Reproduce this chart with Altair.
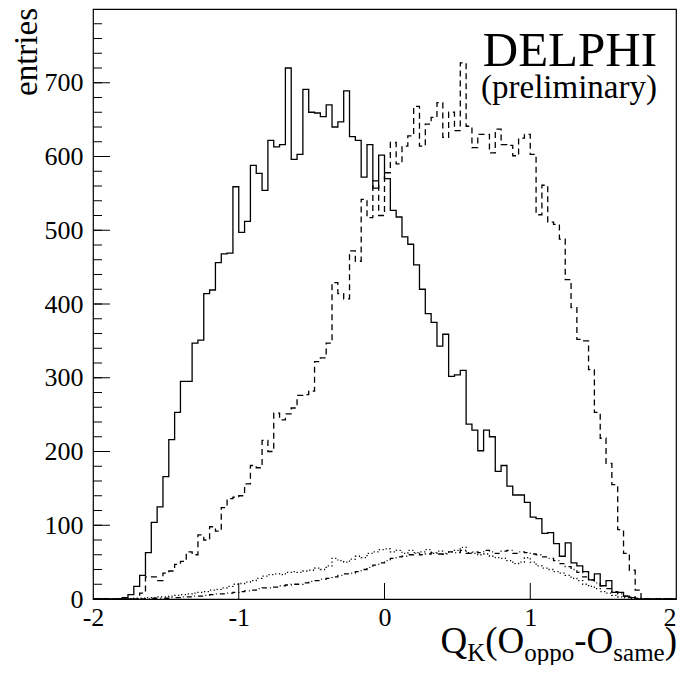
import altair as alt
import pandas as pd
import numpy as np

# ---- histogram definition -------------------------------------------------
X_MIN, X_MAX, BIN_W, N_BINS = -2.0, 2.0, 0.04, 100

# entries per bin (bins of width 0.04 starting at the given bin index)
SOLID_START = 5
SOLID = [2, 6, 17, 32, 63, 104, 125, 166, 216, 253,
         295, 295, 347, 351, 414, 419, 456, 468, 469, 559,
         497, 512, 588, 577, 554, 622, 613, 616, 720, 596,
         603, 691, 660, 659, 654, 670, 640, 647, 689, 627,
         622, 572, 616, 557, 602, 570, 527, 518, 491, 481,
         453, 420, 387, 375, 343, 359, 302, 304, 310, 237,
         229, 201, 229, 220, 173, 181, 153, 141, 141, 131,
         111, 109, 89, 90, 75, 58, 76, 49, 45, 37,
         26, 34, 18, 25, 9, 9, 4, 2]

DASHED_START = 8
DASHED = [8, 30, 30, 25, 35, 38, 47, 51, 64, 60,
          87, 80, 98, 92, 124, 136, 138, 140, 156, 181,
          178, 215, 200, 252, 243, 251, 259, 276, 277, 282,
          322, 327, 347, 429, 414, 407, 472, 458, 542, 517,
          567, 520, 578, 619, 590, 614, 628, 668, 614, 644,
          653, 673, 626, 660, 635, 727, 641, 612, 630, 630,
          605, 637, 616, 615, 601, 625, 630, 603, 521, 561,
          511, 508, 488, 433, 395, 352, 350, 311, 253, 218,
          184, 155, 94, 62, 39, 12]

DOTTED_START = 7
DOTTED = [1, 1, 2, 2, 3, 3, 4, 5, 6, 7,
          8, 9, 10, 12, 13, 15, 17, 20, 21, 23,
          25, 28, 31, 33, 34, 33, 36, 37, 36, 38,
          39, 42, 40, 45, 55, 52, 50, 54, 58, 56,
          62, 64, 67, 68, 64, 66, 62, 66, 63, 64,
          67, 62, 65, 61, 64, 66, 70, 63, 62, 60,
          61, 58, 56, 55, 52, 48, 50, 56, 50, 45,
          42, 40, 37, 35, 32, 28, 25, 20, 17, 14,
          10, 8, 5, 3, 2, 1]

DASHDOT_START = 10
DASHDOT = [1, 1, 1, 2, 2, 3, 3, 4, 4, 5,
           6, 7, 7, 8, 9, 10, 11, 12, 14, 15,
           15, 16, 18, 19, 20, 20, 22, 24, 25, 27,
           28, 30, 32, 34, 35, 37, 40, 43, 46, 49,
           52, 55, 57, 58, 60, 62, 60, 61, 63, 61,
           62, 64, 63, 66, 62, 64, 63, 66, 64, 62,
           65, 66, 62, 64, 63, 61, 60, 57, 55, 52,
           48, 44, 40, 36, 30, 26, 22, 18, 14, 10,
           7, 4, 3, 1]

X_TICK_LABELS = [-2, -1, 0, 1, 2]
Y_TICK_LABELS = [0, 100, 200, 300, 400, 500, 600, 700]
Y_MINOR_STEP = 20
Y_MAX = 800

edges = np.round(X_MIN + BIN_W * np.arange(N_BINS + 1), 4)


def step_frame(start, vals):
    full = [0] * start + list(vals)
    full = full + [0] * (N_BINS - len(full))
    return pd.DataFrame({"x": edges, "y": full + [full[-1]]})


W, H = 583, 590
FONT = "Liberation Serif"

xscale = alt.Scale(domain=[X_MIN, X_MAX], nice=False, zero=False)
yscale = alt.Scale(domain=[0, Y_MAX], nice=False)


def hist_layer(start, vals, dash=None, first=False):
    kw = dict(interpolate="step-after", color="black", strokeWidth=1.3)
    if dash:
        kw["strokeDash"] = dash
    if first:
        xe = alt.X("x:Q", scale=xscale, title=None,
                   axis=alt.Axis(values=X_TICK_LABELS, ticks=False, domain=False, grid=False,
                                 labelExpr="'' + datum.value", labelFont=FONT, labelFontSize=26,
                                 labelColor="black", labelPadding=5, labelFlush=False,
                                 labelAlign={"condition": {"test": "datum.value == 2", "value": "right"},
                                             "value": "center"}))
        ye = alt.Y("y:Q", scale=yscale, title=None,
                   axis=alt.Axis(values=Y_TICK_LABELS, ticks=False, domain=False, grid=False,
                                 labelFont=FONT, labelFontSize=26, labelColor="black",
                                 labelPadding=10))
    else:
        xe = alt.X("x:Q", scale=xscale)
        ye = alt.Y("y:Q", scale=yscale)
    return alt.Chart(step_frame(start, vals)).mark_line(**kw).encode(x=xe, y=ye)


solid = hist_layer(SOLID_START, SOLID, first=True)
dashed = hist_layer(DASHED_START, DASHED, dash=[6, 4])
dotted = hist_layer(DOTTED_START, DOTTED, dash=[1.2, 2.5])
dashdot = hist_layer(DASHDOT_START, DASHDOT, dash=[5, 3, 1, 3])

# inner ticks
y_minor = pd.DataFrame({"v": list(range(0, Y_MAX, Y_MINOR_STEP))})
y_major = pd.DataFrame({"v": Y_TICK_LABELS})
x_major = pd.DataFrame({"v": X_TICK_LABELS[1:-1]})

ymin_rule = alt.Chart(y_minor).mark_rule(color="black", strokeWidth=1).encode(
    y=alt.Y("v:Q", scale=yscale), x=alt.value(0), x2=alt.value(9))
ymaj_rule = alt.Chart(y_major).mark_rule(color="black", strokeWidth=1).encode(
    y=alt.Y("v:Q", scale=yscale), x=alt.value(0), x2=alt.value(17))
xmaj_rule = alt.Chart(x_major).mark_rule(color="black", strokeWidth=1).encode(
    x=alt.X("v:Q", scale=xscale), y=alt.value(H), y2=alt.value(H - 16))

one = pd.DataFrame({"a": [0]})


def label(text, x, y, size, align="left", angle=0, baseline="alphabetic"):
    kw = dict(text=text, font=FONT, fontSize=size, align=align, baseline=baseline, color="black")
    if angle:
        kw["angle"] = angle
    return alt.Chart(one).mark_text(**kw).encode(x=alt.value(x), y=alt.value(y))


MB, SB = 644, 652  # baselines of the x-title main text and subscripts
texts = [
    label("DELPHI", 564, 57, 49, align="right"),
    label("(preliminary)", 564, 89, 33, align="right"),
    label("entries", -66, -1, 33, align="right", angle=270, baseline="middle"),
    # x-axis title  Q_K(O_oppo-O_same)
    label(")", 584, MB, 37, align="right"),
    label("same", 571.7, SB, 25, align="right"),
    label("-O", 520.3, MB, 37, align="right"),
    label("oppo", 481.3, SB, 25, align="right"),
    label("(O", 431.3, MB, 37, align="right"),
    label("K", 392.3, SB, 25, align="right"),
    label("Q", 374.3, MB, 37, align="right"),
]

chart = alt.layer(solid, dashed, dotted, dashdot, ymin_rule, ymaj_rule, xmaj_rule, *texts).properties(
    width=W, height=H,
    autosize=alt.AutoSizeParams(type="none"),
    padding={"left": 85, "top": 1, "right": 1, "bottom": 66},
    background="white",
).configure_view(stroke="black", strokeWidth=1.2)

chart.save("out.html", embed_options={"renderer": "svg", "actions": False})
